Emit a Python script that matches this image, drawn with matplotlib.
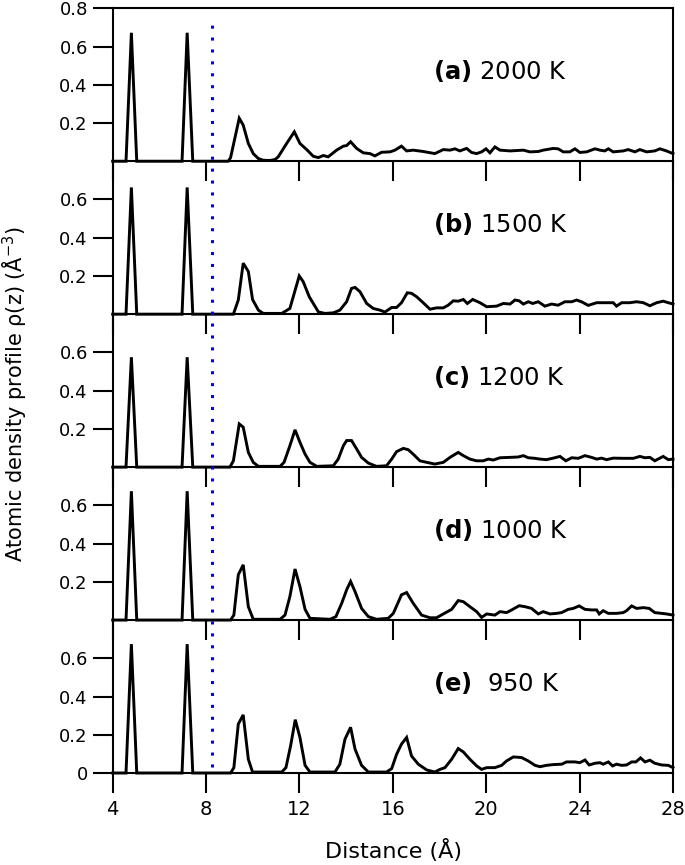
import matplotlib
matplotlib.use("Agg")
import matplotlib.pyplot as plt
from matplotlib.lines import Line2D

plt.rcParams['font.family'] = ['DejaVu Sans']
plt.rcParams['mathtext.fontset'] = 'custom'
plt.rcParams['mathtext.rm'] = 'DejaVu Sans'
plt.rcParams['mathtext.bf'] = 'DejaVu Sans:bold'

# ---------------- data ----------------
x_head = [4.0, 4.57, 4.8, 5.03, 6.97, 7.19, 7.43]

x_a = [8.95, 9.05, 9.42, 9.59, 9.81, 10.02, 10.24, 10.45, 10.74, 10.95, 11.09, 11.45, 11.78, 12.02, 12.31,
       12.59, 12.81, 13.02, 13.23, 13.59, 13.88, 14.02, 14.19, 14.45, 14.73, 15.02, 15.23, 15.52, 15.88, 16.09,
       16.37, 16.59, 16.87, 17.30, 17.80, 18.16, 18.45, 18.66, 18.87, 19.16, 19.37, 19.59, 19.80, 19.99, 20.16,
       20.37, 20.59, 21.02, 21.59, 21.87, 22.23, 22.44, 22.87, 23.08, 23.30, 23.58, 23.80, 24.01, 24.30, 24.66,
       24.87, 25.08, 25.23, 25.44, 25.87, 26.08, 26.37, 26.58, 26.87, 27.22, 27.44, 27.72, 28.0]
rho_a = [0, 0.019, 0.225, 0.189, 0.093, 0.040, 0.014, 0.005, 0.004, 0.009, 0.023, 0.093, 0.154, 0.093, 0.061,
         0.026, 0.019, 0.030, 0.023, 0.058, 0.079, 0.082, 0.102, 0.067, 0.044, 0.040, 0.028, 0.047, 0.049, 0.058,
         0.079, 0.054, 0.058, 0.051, 0.040, 0.061, 0.058, 0.065, 0.054, 0.067, 0.046, 0.040, 0.049, 0.065, 0.044,
         0.075, 0.058, 0.054, 0.058, 0.049, 0.051, 0.058, 0.067, 0.065, 0.049, 0.049, 0.065, 0.046, 0.049, 0.065,
         0.058, 0.054, 0.065, 0.049, 0.054, 0.061, 0.049, 0.061, 0.049, 0.054, 0.065, 0.054, 0.040]

x_b = [9.17, 9.38, 9.59, 9.81, 9.99, 10.24, 10.45, 11.24, 11.59, 11.99, 12.16, 12.42, 12.81, 13.09, 13.45,
       13.73, 14.02, 14.23, 14.38, 14.59, 14.88, 15.16, 15.45, 15.66, 15.95, 16.16, 16.37, 16.62, 16.80, 17.02,
       17.30, 17.59, 17.87, 18.16, 18.37, 18.59, 18.80, 19.02, 19.19, 19.42, 19.73, 20.02, 20.44, 20.73, 21.02,
       21.23, 21.41, 21.59, 21.80, 21.99, 22.23, 22.51, 22.80, 23.08, 23.37, 23.66, 23.87, 24.08, 24.37, 24.73,
       25.01, 25.44, 25.58, 25.80, 26.15, 26.44, 26.73, 27.01, 27.30, 27.58, 27.80, 28.0]
rho_b = [0, 0.074, 0.267, 0.223, 0.077, 0.021, 0.004, 0.004, 0.030, 0.200, 0.170, 0.091, 0.012, 0.004, 0.007,
         0.021, 0.065, 0.135, 0.140, 0.118, 0.056, 0.030, 0.021, 0.011, 0.035, 0.035, 0.060, 0.112, 0.109, 0.091,
         0.060, 0.026, 0.033, 0.033, 0.047, 0.070, 0.068, 0.077, 0.056, 0.077, 0.060, 0.039, 0.042, 0.056, 0.053,
         0.074, 0.070, 0.053, 0.065, 0.056, 0.065, 0.042, 0.053, 0.047, 0.065, 0.065, 0.074, 0.065, 0.046, 0.060,
         0.060, 0.060, 0.042, 0.060, 0.060, 0.065, 0.060, 0.044, 0.060, 0.068, 0.060, 0.053]

x_c = [9.02, 9.17, 9.42, 9.59, 9.81, 10.02, 10.24, 11.17, 11.34, 11.59, 11.81, 12.02, 12.24, 12.45, 12.74,
       13.45, 13.66, 13.88, 14.02, 14.23, 14.45, 14.66, 14.95, 15.30, 15.73, 15.95, 16.16, 16.45, 16.66, 16.87,
       17.16, 17.45, 17.80, 18.16, 18.45, 18.80, 19.02, 19.30, 19.59, 19.87, 20.09, 20.30, 20.59, 21.02, 21.37,
       21.59, 21.80, 22.09, 22.30, 22.58, 22.87, 23.16, 23.41, 23.66, 23.94, 24.23, 24.51, 24.73, 24.94, 25.15,
       25.44, 25.87, 26.30, 26.58, 26.80, 27.01, 27.22, 27.58, 27.80, 28.0]
rho_c = [0, 0.033, 0.226, 0.209, 0.077, 0.025, 0.004, 0.004, 0.025, 0.112, 0.195, 0.130, 0.068, 0.025, 0.004,
         0.007, 0.042, 0.112, 0.139, 0.139, 0.095, 0.051, 0.021, 0.004, 0.007, 0.042, 0.081, 0.098, 0.091, 0.068,
         0.033, 0.025, 0.016, 0.025, 0.051, 0.077, 0.060, 0.042, 0.033, 0.033, 0.042, 0.037, 0.049, 0.051, 0.053,
         0.060, 0.049, 0.046, 0.042, 0.039, 0.047, 0.056, 0.033, 0.049, 0.046, 0.060, 0.051, 0.042, 0.047, 0.039,
         0.047, 0.046, 0.046, 0.056, 0.049, 0.051, 0.033, 0.056, 0.039, 0.042]

x_d = [9.05, 9.19, 9.38, 9.59, 9.81, 10.02, 11.17, 11.38, 11.59, 11.81, 12.02, 12.24, 12.45, 13.31, 13.56,
       13.81, 14.02, 14.19, 14.38, 14.66, 14.95, 15.30, 15.80, 16.02, 16.37, 16.59, 16.87, 17.23, 17.59, 17.87,
       18.16, 18.52, 18.80, 19.02, 19.30, 19.59, 19.80, 20.02, 20.37, 20.59, 20.87, 21.09, 21.41, 21.66, 21.94,
       22.23, 22.44, 22.73, 23.01, 23.23, 23.51, 23.73, 23.98, 24.23, 24.51, 24.73, 24.84, 25.01, 25.23, 25.58,
       25.87, 26.01, 26.23, 26.44, 26.73, 26.98, 27.22, 27.51, 27.72, 28.0]
rho_d = [0, 0.026, 0.237, 0.289, 0.070, 0.004, 0.004, 0.026, 0.123, 0.267, 0.175, 0.056, 0.009, 0.004, 0.018,
         0.088, 0.158, 0.202, 0.149, 0.061, 0.018, 0.004, 0.009, 0.035, 0.132, 0.144, 0.088, 0.026, 0.012, 0.012,
         0.032, 0.056, 0.102, 0.096, 0.070, 0.044, 0.014, 0.032, 0.026, 0.044, 0.039, 0.053, 0.075, 0.070, 0.061,
         0.032, 0.044, 0.032, 0.035, 0.039, 0.056, 0.061, 0.074, 0.056, 0.053, 0.053, 0.032, 0.049, 0.035, 0.035,
         0.039, 0.049, 0.074, 0.061, 0.065, 0.061, 0.039, 0.035, 0.032, 0.026]

x_e = [9.05, 9.19, 9.38, 9.59, 9.81, 9.99, 11.24, 11.42, 11.62, 11.82, 12.02, 12.24, 12.45, 13.52, 13.73,
       13.95, 14.19, 14.38, 14.66, 14.95, 15.73, 15.95, 16.16, 16.37, 16.59, 16.80, 17.09, 17.45, 17.80, 18.02,
       18.23, 18.52, 18.80, 19.02, 19.30, 19.59, 19.80, 20.02, 20.37, 20.66, 20.87, 21.16, 21.51, 21.80, 22.09,
       22.30, 22.58, 22.87, 23.23, 23.44, 23.80, 24.01, 24.23, 24.41, 24.66, 24.87, 25.01, 25.23, 25.41, 25.58,
       25.80, 26.01, 26.23, 26.41, 26.61, 26.80, 27.01, 27.22, 27.51, 27.80, 28.0]
rho_e = [0, 0.028, 0.256, 0.304, 0.072, 0.005, 0.005, 0.028, 0.142, 0.279, 0.186, 0.040, 0.005, 0.005, 0.046,
         0.177, 0.239, 0.125, 0.040, 0.005, 0.005, 0.023, 0.098, 0.151, 0.186, 0.089, 0.046, 0.016, 0.005, 0.019,
         0.028, 0.072, 0.128, 0.110, 0.072, 0.037, 0.019, 0.028, 0.028, 0.040, 0.063, 0.084, 0.081, 0.063, 0.040,
         0.033, 0.040, 0.044, 0.046, 0.058, 0.058, 0.054, 0.068, 0.042, 0.051, 0.054, 0.046, 0.058, 0.037, 0.046,
         0.040, 0.042, 0.058, 0.058, 0.079, 0.058, 0.067, 0.051, 0.042, 0.040, 0.028]

peak_heights = [0.672, 0.663, 0.575, 0.674, 0.674]
panel_tags = ["(a)", "(b)", "(c)", "(d)", "(e)"]
panel_temps = ["2000 K", "1500 K", "1200 K", "1000 K", " 950 K"]
x_ticks = [4, 8, 12, 16, 20, 24, 28]
wall_x = 8.25

xs = [x_a, x_b, x_c, x_d, x_e]
rhos = [rho_a, rho_b, rho_c, rho_d, rho_e]

# ---------------- figure ----------------
fig = plt.figure(figsize=(6.85, 8.65), dpi=100)
left, right = 112.7 / 685, 673 / 685
top = 1 - 8.3 / 865
bottom = 1 - 773 / 865
ph = (top - bottom) / 5

axes = []
for i in range(5):
    ax = fig.add_axes([left, top - (i + 1) * ph, right - left, ph])
    ax.patch.set_visible(False)
    h = peak_heights[i]
    yh = [0, 0, h, 0, 0, h, 0]
    ax.plot(x_head + xs[i], yh + rhos[i], color='black', lw=2.1, clip_on=False,
            solid_joinstyle='miter', zorder=3)
    ax.set_xlim(4, 28)
    ax.set_ylim(0, 0.8)
    ax.set_xticks(x_ticks)
    if i == 0:
        yt = [0.2, 0.4, 0.6, 0.8]
    elif i == 4:
        yt = [0, 0.2, 0.4, 0.6]
    else:
        yt = [0.2, 0.4, 0.6]
    ax.set_yticks(yt)
    ax.set_yticklabels(['0' if v == 0 else f'{v:.1f}' for v in yt])
    for s in ['left', 'right', 'bottom', 'top']:
        ax.spines[s].set_linewidth(1.5)
    ax.spines['top'].set_visible(i == 0)
    ax.tick_params(axis='both', direction='out', length=14.4, width=1.5, labelsize=13)
    ax.tick_params(axis='y', pad=3.5)
    ax.tick_params(axis='x', pad=5, labelsize=14, labelbottom=(i == 4))
    ax.text(17.72, 0.43, r'$\mathbf{' + panel_tags[i] + r'}$' + ' ' + panel_temps[i],
            fontsize=17.5, ha='left', va='baseline')
    axes.append(ax)

# blue dotted wall line across all panels (bottom axes data coords)
axb = axes[-1]
wall = Line2D([wall_x, wall_x], [0.03, 4.0 - 0.063], color='#0000ff', lw=2.2,
              linestyle=(0, (1, 2.9)), clip_on=False, zorder=4)
axb.add_line(wall)

fig.text(0.574, 1 - 858 / 865, 'Distance (Å)', ha='center', va='baseline', fontsize=16)
fig.text(0.022, 0.545, r'Atomic density profile ρ(z) (Å$^{-3}$)', rotation=90,
         ha='center', va='center', fontsize=15)

fig.savefig('out.png', dpi=100)
